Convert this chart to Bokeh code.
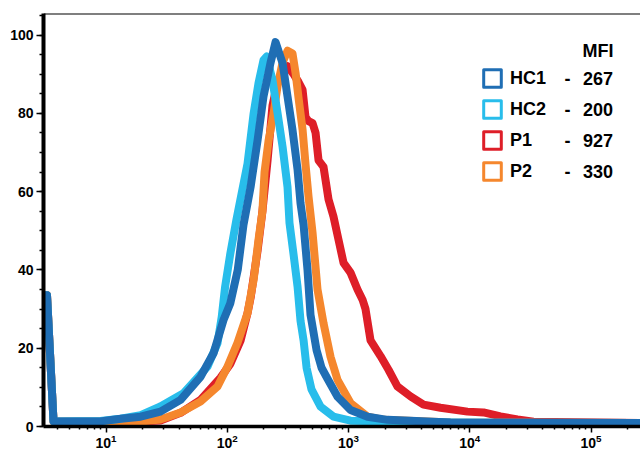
import math
from bokeh.plotting import figure
from bokeh.models import Range1d, FixedTicker, Legend, LegendItem, Label, Span, LogTickFormatter
from bokeh.embed import file_html
from bokeh.resources import INLINE

# ---------------- data ----------------
names = ["HC1", "HC2", "P1", "P2"]
mfi = [267, 200, 927, 330]
colors = ["#1f6eb4", "#28bdeb", "#de1e28", "#f5872d"]

hc1_x = [3.0, 3.26, 3.69, 9.0, 13.2, 19.3, 28.1, 41.2, 60.2, 77.0, 93.1, 106, 122, 129, 136, 156, 178, 199,
         227, 250, 286, 314, 345, 380, 402, 426, 459, 486, 545, 599, 671, 812, 1039, 1435, 2097, 6937, 260000]
hc1_y = [33.5, 33.5, 1.3, 1.3, 2.0, 2.5, 3.8, 6.8, 12.7, 18.7, 27.2, 31.5, 40, 45.9, 51.5, 61.3, 73.2, 84.3,
         92.8, 98.2, 92.8, 84.3, 75.8, 65.6, 57, 51.5, 40, 28.5, 19.5, 15, 12.2, 7.6, 4.2, 2.5, 1.7, 1.0, 0.9]

hc2_x = [3.0, 3.26, 3.69, 9.0, 13.2, 19.3, 28.1, 43.6, 68.7, 83.1, 90.0, 96.0, 106, 119, 147, 165, 181, 199,
         211, 236, 260, 286, 314, 326, 352, 380, 402, 426, 451, 495, 588, 752, 1039, 6937, 260000]
hc2_y = [33.5, 33.5, 1.3, 1.4, 2.0, 2.9, 5.1, 8.5, 15.3, 21.3, 28, 35.7, 44.2, 52.8, 67.2, 80, 87.7, 93.6,
         94.5, 88.5, 80, 71.4, 61.2, 52, 44, 35.7, 27, 22, 15, 9.5, 5.1, 2.5, 1.5, 1.0, 0.9]

p1_x = [3.0, 3.26, 3.69, 9.0, 19.3, 28.1, 41.2, 60.2, 88, 106, 129, 147, 156, 178, 195, 215, 236, 260, 286,
        314, 352, 387, 418, 442, 468, 505, 535, 566, 622, 684, 752, 827, 910, 1039, 1186, 1305, 1381, 1519,
        1836, 2137, 2536, 3246, 4155, 5741, 9581, 12990, 17930, 24760, 33570, 260000]
p1_y = [33.5, 33.5, 1.3, 1.2, 1.3, 1.5, 3.5, 6.8, 12.5, 16, 22, 29, 33, 45, 55, 68, 82, 88, 91,
        92, 90, 88, 86, 79, 78, 77.5, 75, 68, 66.3, 58, 53.6, 47.7, 41.8, 39.3, 35, 32.4, 30, 22,
        18, 14.5, 10.2, 7.7, 5.6, 4.8, 3.8, 3.6, 2.6, 1.8, 1.2, 0.9]

p2_x = [3.0, 3.26, 3.69, 9.0, 19.3, 28.1, 41.2, 60.2, 83.1, 100.5, 121.5, 147, 165, 181, 195, 203, 219, 241,
        260, 286, 314, 345, 366, 387, 418, 442, 468, 505, 555, 622, 711, 812, 1039, 1435, 1944, 6937, 260000]
p2_y = [33.5, 33.5, 1.3, 1.2, 1.3, 1.8, 3.6, 6.4, 10.2, 15.3, 21.4, 29, 37.5, 47.7, 55, 65, 73, 80,
        87, 93, 96, 95.3, 90.3, 84, 75.8, 67, 58.7, 49.5, 35, 26.4, 17.8, 11.9, 6, 2.5, 1.7, 1.0, 0.9]

x_major = [10, 100, 1000, 10000, 100000]
y_major = [0, 20, 40, 60, 80, 100]

series_x = [hc1_x, hc2_x, p1_x, p2_x]
series_y = [hc1_y, hc2_y, p1_y, p2_y]

# ---------------- layout ----------------
X0, X1 = 3.05, 2.56e5
Y0, Y1 = 0, 105.5
W, H = 640, 453
ML, MT, MB = 43, 13, 27
FONT = "Liberation Sans"

p = figure(width=W, height=H, x_axis_type="log", output_backend="svg", toolbar_location=None,
           x_range=Range1d(X0, X1), y_range=Range1d(Y0, Y1),
           min_border_left=ML, min_border_right=0, min_border_top=MT, min_border_bottom=MB)
p.xgrid.visible = False
p.ygrid.visible = False
p.outline_line_color = None
p.background_fill_color = "white"
p.border_fill_color = "white"

# draw order: P1, P2, HC2, HC1 (HC1 on top)
order = [2, 3, 1, 0]
for i in order:
    p.line(series_x[i], series_y[i], line_width=8, line_color=colors[i],
           line_join="round", line_cap="round")

# legend glyph renderers (hidden boxes spanning each series' extent)
boxes = []
for xs, ys, c in zip(series_x, series_y, colors):
    r = p.quad(left=[min(xs)], right=[max(xs)], top=[max(ys)], bottom=[0],
               fill_color="white", line_color=c, line_width=3, line_join="round")
    r.visible = False
    boxes.append(r)

legend = Legend(items=[LegendItem(label=n, renderers=[r]) for n, r in zip(names, boxes)],
                location=(438, 244), orientation="vertical", click_policy="none",
                glyph_width=22, glyph_height=22, label_height=22, label_standoff=7, spacing=9,
                padding=0, margin=0, border_line_alpha=0, background_fill_alpha=0,
                inactive_fill_alpha=0,
                label_text_font=FONT, label_text_font_size="18px", label_text_font_style="bold",
                label_text_color="black")
p.add_layout(legend)

# frame in page pixels (for placing legend texts)
FL, FT, FW, FH = 43, 13, 597, 413


def dx(px):
    return 10 ** (math.log10(X0) + (px - FL) / FW * (math.log10(X1) - math.log10(X0)))


def dy(py):
    return Y0 + (FT + FH - py) / FH * (Y1 - Y0)


txt = dict(text_font=FONT, text_font_size="18px", text_font_style="bold", text_color="black",
           text_baseline="middle")
p.add_layout(Label(x=dx(613), y=dy(50), text="MFI", text_align="right", **txt))
for i, v in enumerate(mfi):
    yrow = 77.5 + 31 * i
    p.add_layout(Label(x=dx(567), y=dy(yrow), text="-", text_align="center", **txt))
    p.add_layout(Label(x=dx(612.5), y=dy(yrow), text=str(v), text_align="right", **txt))

# top border
p.add_layout(Span(location=Y1, dimension="width", line_color="black", line_width=2))

# axes
p.yaxis.ticker = FixedTicker(ticks=y_major, minor_ticks=list(range(0, 106, 5)))
p.xaxis.ticker = FixedTicker(ticks=x_major,
                             minor_ticks=[k * 10 ** n for n in range(0, 6) for k in range(2, 10)])
p.xaxis.formatter = LogTickFormatter(min_exponent=0)

for ax in (p.xaxis[0], p.yaxis[0]):
    ax.axis_line_color = "black"
    ax.major_tick_line_color = "black"
    ax.minor_tick_line_color = "black"
    ax.major_tick_in = 0
    ax.minor_tick_in = 0
    ax.major_tick_line_width = 1.5
    ax.minor_tick_line_width = 1.5
    ax.major_label_text_font = FONT
    ax.major_label_text_font_style = "bold"
    ax.major_label_text_color = "black"

p.yaxis.axis_line_width = 4
p.yaxis.major_tick_out = 7
p.yaxis.minor_tick_out = 4
p.yaxis.major_label_text_font_size = "14px"
p.yaxis.major_label_standoff = 3

p.xaxis.axis_line_width = 3.5
p.xaxis.major_tick_out = 6
p.xaxis.minor_tick_out = 3
p.xaxis.major_label_text_font_size = "14px"
p.xaxis.major_label_standoff = 1

open("out.html", "w").write(file_html(p, INLINE))
